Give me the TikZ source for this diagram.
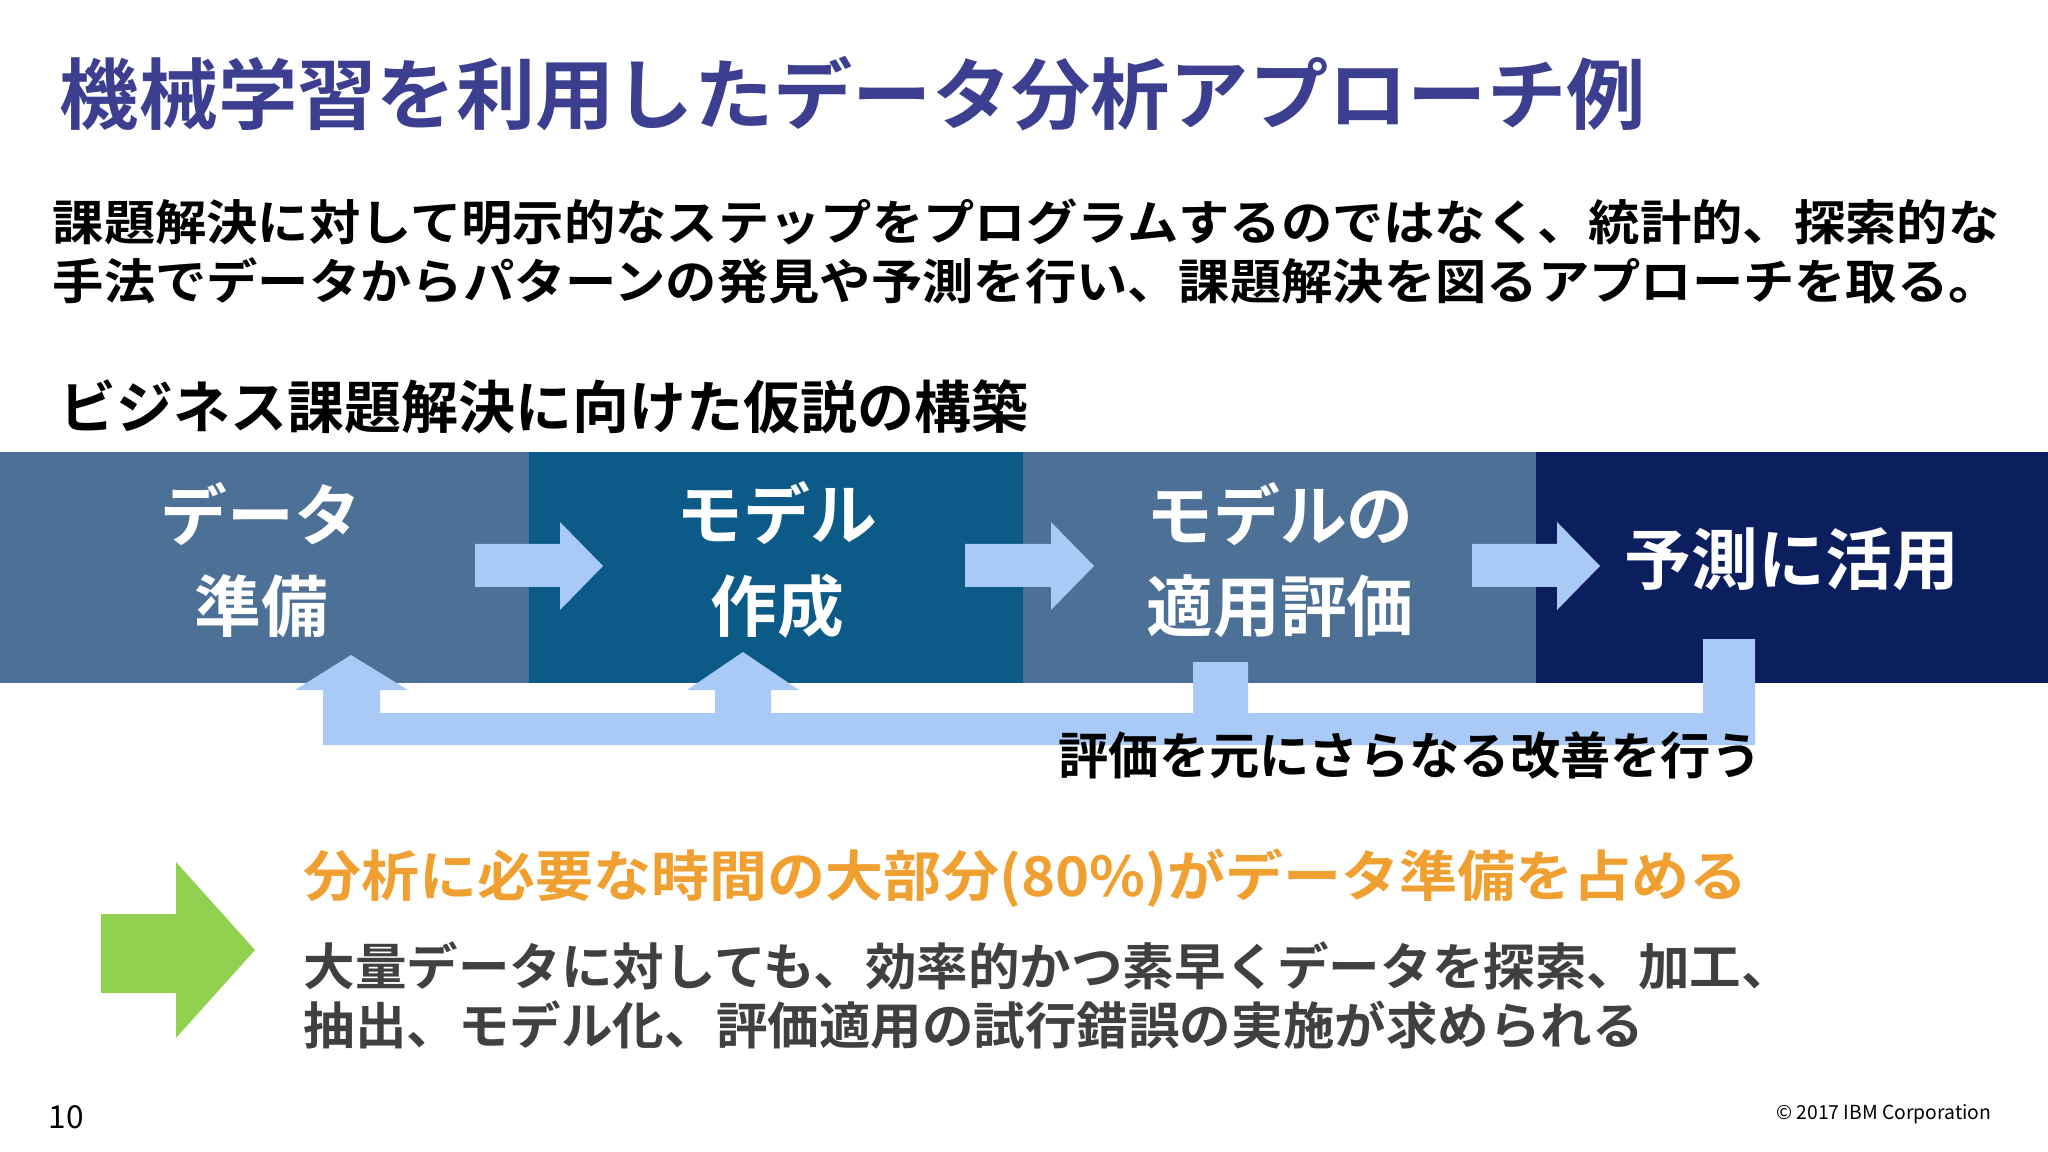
\documentclass[tikz,border=0pt]{standalone}
\usepackage{fontspec}
\setmainfont{Noto Sans CJK JP}[BoldFont={* Bold}]
\definecolor{ttl}{HTML}{3C3F8F}
\definecolor{sa}{HTML}{4C7096}
\definecolor{sb}{HTML}{0C5A87}
\definecolor{sd}{HTML}{0B1F5F}
\definecolor{lb}{HTML}{A9CAF7}
\definecolor{gr}{HTML}{92D050}
\definecolor{org}{HTML}{F0A030}
\definecolor{gy}{HTML}{404040}
\begin{document}
\begin{tikzpicture}[x=0.01cm,y=-0.01cm,
  txt/.style={inner sep=0,anchor=west,font=\bfseries},
  box/.style={text=white,font=\bfseries\fontsize{19}{24}\selectfont,align=center,inner sep=0},
  blk/.style={fill=lb}]
\useasboundingbox (0,0) rectangle (2048,1152);
\fill[white] (0,0) rectangle (2048,1152);
\node[txt,text=ttl,font=\bfseries\fontsize{22}{26}\selectfont] (title) at (59,94) {\scalebox{1.025}[1]{機械学習を利用したデータ分析アプローチ例}};
\node[txt,font=\bfseries\fontsize{13.7}{17}\selectfont] (p1) at (52,222) {\scalebox{1.065}[1]{課題解決に対して明示的なステップをプログラムするのではなく、統計的、探索的な}};
\node[txt,font=\bfseries\fontsize{13.7}{17}\selectfont] (p2) at (52,281) {\scalebox{1.065}[1]{手法でデータからパターンの発見や予測を行い、課題解決を図るアプローチを取る。}};
\node[txt,font=\bfseries\fontsize{16.2}{20}\selectfont] (hd) at (59,407) {ビジネス課題解決に向けた仮説の構築};
% band
\fill[sa] (0,452) rectangle (529,683);
\fill[sb] (529,452) rectangle (1023,683);
\fill[sa] (1023,452) rectangle (1536,683);
\fill[sd] (1536,452) rectangle (2048,683);
\node[box] (b1) at (261,560) {データ\\[2pt]準備};
\node[box] (b2) at (777,560) {モデル\\[2pt]作成};
\node[box] (b3) at (1280,560) {モデルの\\[2pt]適用評価};
\node[box] (b4) at (1792,559) {予測に活用};
% arrows
\foreach \a/\b in {475/603,965/1094,1472/1600}{
  \fill[lb] (\a,544) -- (\b-43,544) -- (\b-43,522) -- (\b,566) -- (\b-43,610) -- (\b-43,587) -- (\a,587) -- cycle;}
% feedback loop
\fill[lb] (323,745) -- (323,690) -- (295,690) -- (351,655) -- (408,690) -- (380,690) -- (380,713)
  -- (715,713) -- (715,690) -- (687,690) -- (743,652) -- (799,690) -- (771,690) -- (771,713)
  -- (1193,713) -- (1193,662) -- (1248,662) -- (1248,713) -- (1703,713) -- (1703,639) -- (1755,639)
  -- (1755,745) -- cycle;
\node[inner sep=0,font=\bfseries\fontsize{14.3}{18}\selectfont] (fb) at (1410,755) {評価を元にさらなる改善を行う};
% green arrow
\fill[gr] (101,914) -- (176,914) -- (176,862) -- (255,950) -- (176,1038) -- (176,993) -- (101,993) -- cycle;
\node[txt,text=org,font=\bfseries\fontsize{15.6}{19}\selectfont] (o1) at (303,878) {\scalebox{1.057}[1]{分析に必要な時間の大部分(80\%)がデータ準備を占める}};
\node[txt,text=gy,font=\bfseries\fontsize{14.3}{18}\selectfont] (g1) at (303,966) {\scalebox{1.025}[1]{大量データに対しても、効率的かつ素早くデータを探索、加工、}};
\node[txt,text=gy,font=\bfseries\fontsize{14.3}{18}\selectfont] (g2) at (303,1025) {\scalebox{1.025}[1]{抽出、モデル化、評価適用の試行錯誤の実施が求められる}};
\node[inner sep=0,anchor=west,font=\fontsize{9}{11}\selectfont] (pg) at (48,1117) {10};
\node[inner sep=0,anchor=east,font=\fontsize{5.5}{7}\selectfont] (cp) at (1992,1114) {© 2017 IBM Corporation};
\end{tikzpicture}
\end{document}
